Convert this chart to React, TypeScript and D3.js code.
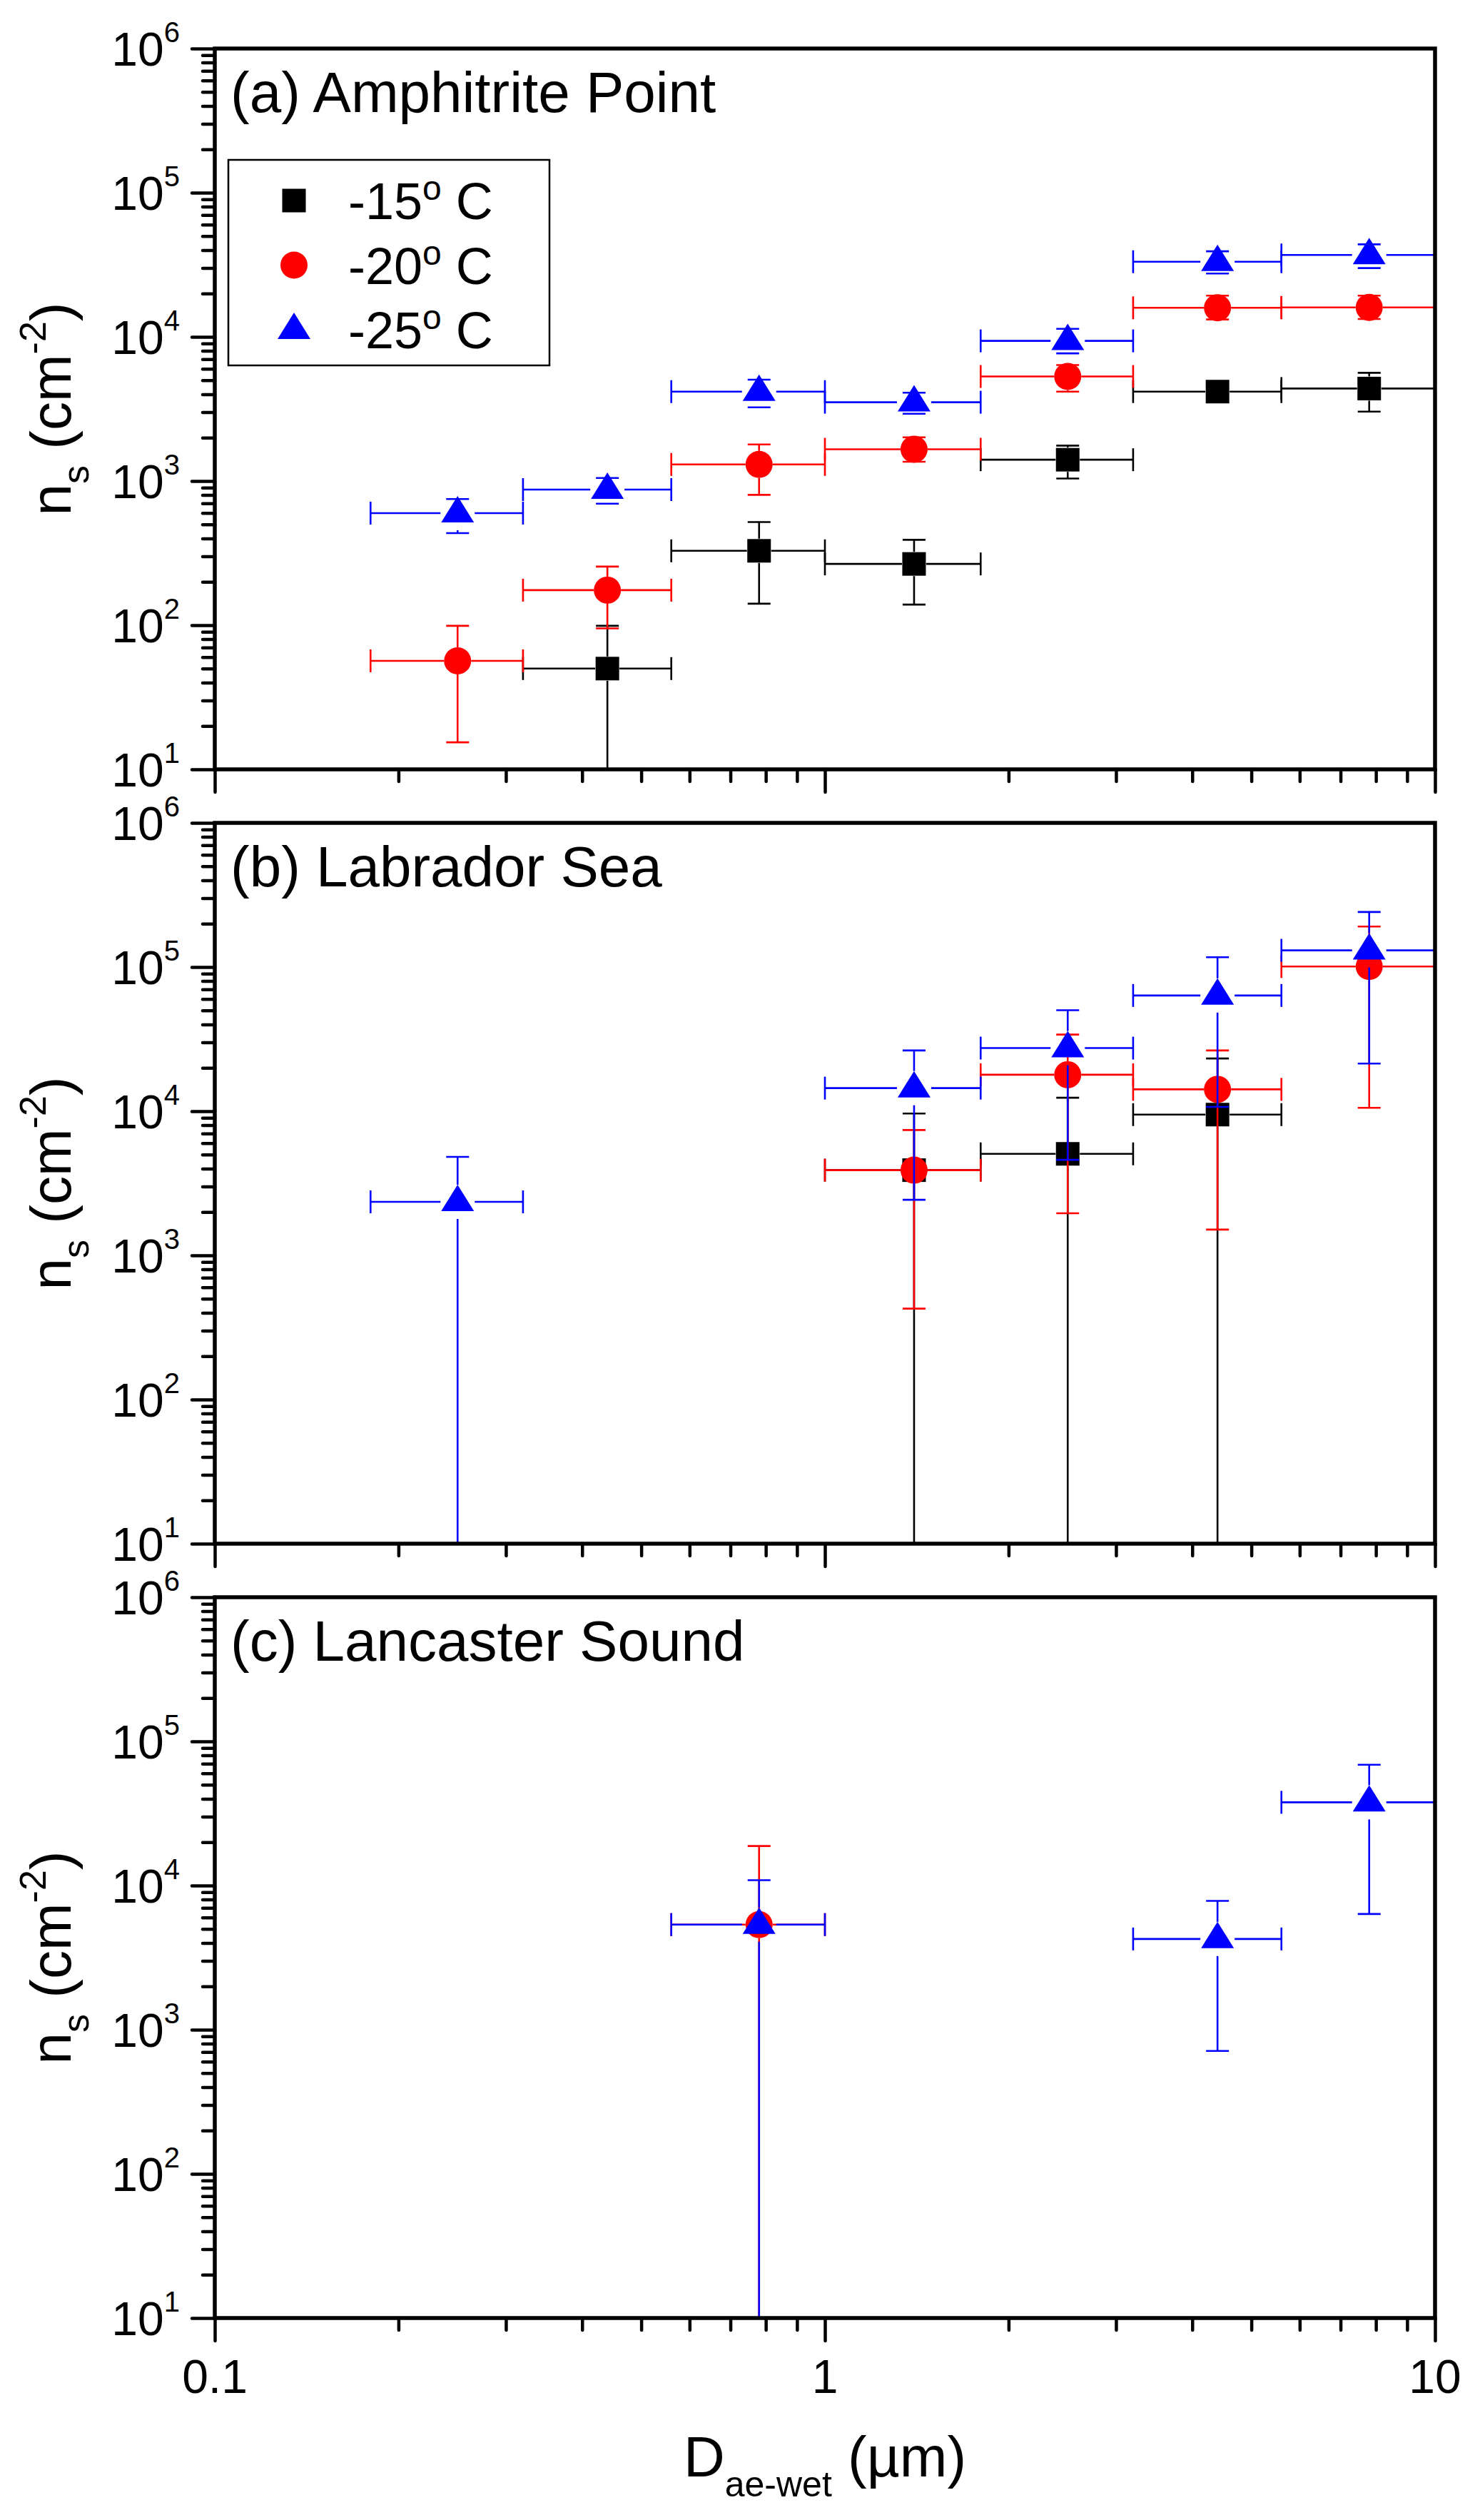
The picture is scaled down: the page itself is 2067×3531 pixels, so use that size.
import React, { useEffect, useRef } from 'react';
import * as d3 from 'd3';

// wet aerodynamic diameter bins (µm)
const binMid = [0.25, 0.44, 0.78, 1.4, 2.5, 4.4, 7.8];
const binLo = [0.18, 0.32, 0.56, 1.0, 1.8, 3.2, 5.6];
const binHi = [0.32, 0.56, 1.0, 1.8, 3.2, 5.6, 10];

// (a) Amphitrite Point, n_s (cm^-2); lower error of 0 runs off the axis
const apM15 = [null, 50, 328, 266, 1405, 4170, 4380];
const apM15Lo = [null, 0, 141, 139, 1040, 4170, 3030];
const apM15Hi = [null, 99, 519, 391, 1760, 4170, 5630];
const apM20 = [56.6, 175, 1303, 1660, 5310, 15900, 16000];
const apM20Lo = [15.4, 95, 802, 1360, 4170, 13200, 13300];
const apM20Hi = [99, 255, 1793, 2010, 6380, 19300, 19300];
const apM25 = [599, 872, 4170, 3520, 9380, 33200, 37000];
const apM25Lo = [435, 696, 3245, 2930, 7680, 27500, 30000];
const apM25Hi = [750, 1050, 5050, 4100, 11370, 39200, 43800];

// (b) Labrador Sea
const lsM15 = [null, null, null, 3900, 5060, 9470, null];
const lsM15Lo = [null, null, null, 0, 0, 0, null];
const lsM15Hi = [null, null, null, 9640, 12400, 23200, null];
const lsM20 = [null, null, null, 3900, 17900, 14170, 100800];
const lsM20Lo = [null, null, null, 427, 1960, 1510, 10550];
const lsM20Hi = [null, null, null, 7400, 34000, 26400, 191000];
const lsM25 = [2350, null, null, 14460, 27400, 63500, 130600];
const lsM25Lo = [0, null, null, 2430, 4600, 10700, 21400];
const lsM25Hi = [4820, null, null, 26400, 50200, 117000, 241000];

// (c) Lancaster Sound
const lcM15 = [null, null, null, null, null, null, null];
const lcM20 = [null, null, 5360, null, null, null, null];
const lcM20Lo = [null, null, 0, null, null, null, null];
const lcM20Hi = [null, null, 18800, null, null, null, null];
const lcM25 = [null, null, 5360, null, null, 4260, 37800];
const lcM25Lo = [null, null, 0, null, null, 713, 6350];
const lcM25Hi = [null, null, 10900, null, null, 7830, 68800];

const panelTitles = ['(a) Amphitrite Point', '(b) Labrador Sea', '(c) Lancaster Sound'];
const seriesTemps = ['-15', '-20', '-25'];
const yExponents = [1, 2, 3, 4, 5, 6];
const xMajor = [0.1, 1, 10];
const xMajorLabels = ['0.1', '1', '10'];

const W = 2067;
const H = 3531;

export default function App() {
  const svgRef = useRef<SVGSVGElement>(null);

  useEffect(() => {
    if (!svgRef.current) return;
    const svg = d3.select(svgRef.current);
    svg.selectAll('*').remove();

    const font = "'Liberation Sans', Arial, sans-serif";
    const colors = ['#000000', '#ff0000', '#0000ff'];
    const shapes = ['square', 'circle', 'triangle'];
    const gaps = [17, 19, 24];
    const left = 301, right = 2011;
    const panelTops = [68, 1153, 2238];
    const panelH = 1010;

    const panels = [
      [[apM15, apM15Lo, apM15Hi], [apM20, apM20Lo, apM20Hi], [apM25, apM25Lo, apM25Hi]],
      [[lsM15, lsM15Lo, lsM15Hi], [lsM20, lsM20Lo, lsM20Hi], [lsM25, lsM25Lo, lsM25Hi]],
      [[lcM15, lcM15, lcM15], [lcM20, lcM20Lo, lcM20Hi], [lcM25, lcM25Lo, lcM25Hi]],
    ];

    const x = d3.scaleLog().domain([0.1, 10]).range([left, right]);
    const xMinor = [0.1, 1].flatMap(d => d3.range(2, 10).map(m => m * d));
    const yMinor = [10, 100, 1000, 1e4, 1e5].flatMap(d => d3.range(2, 10).map(m => m * d));

    svg.append('rect').attr('width', W).attr('height', H).attr('fill', '#fff');

    const marker = (g: any, shape: string, cx: number, cy: number, color: string) => {
      if (shape === 'square') {
        g.append('rect').attr('x', cx - 16.5).attr('y', cy - 16.5).attr('width', 33).attr('height', 33).attr('fill', color);
      } else if (shape === 'circle') {
        g.append('circle').attr('cx', cx).attr('cy', cy).attr('r', 19).attr('fill', color);
      } else {
        g.append('path').attr('transform', `translate(${cx},${cy})`).attr('d', 'M0,-24L23,13L-23,13Z').attr('fill', color);
      }
    };

    panels.forEach((series, p) => {
      const top = panelTops[p];
      const bottom = top + panelH;
      const y = d3.scaleLog().domain([10, 1e6]).range([bottom, top]);
      const yPos = (v: number) => (v <= 10 ? bottom : y(v));
      const g = svg.append('g');

      // ticks (outward)
      const styleTicks = (s: any) => {
        s.select('.domain').remove();
        s.selectAll('line').attr('stroke', '#000').attr('stroke-width', 4.5).attr('stroke-linecap', 'round');
      };
      g.append('g').attr('transform', `translate(${left},0)`)
        .call(d3.axisLeft(y).tickValues(yMinor).tickSize(17).tickFormat(() => '')).call(styleTicks);
      g.append('g').attr('transform', `translate(${left},0)`)
        .call(d3.axisLeft(y).tickValues(yExponents.map(e => 10 ** e)).tickSize(32).tickFormat(() => '')).call(styleTicks);
      g.append('g').attr('transform', `translate(0,${bottom})`)
        .call(d3.axisBottom(x).tickValues(xMinor).tickSize(17).tickFormat(() => '')).call(styleTicks);
      g.append('g').attr('transform', `translate(0,${bottom})`)
        .call(d3.axisBottom(x).tickValues(xMajor).tickSize(32).tickFormat(() => '')).call(styleTicks);

      // y tick labels 10^n
      yExponents.forEach(e => {
        const t = g.append('text').attr('x', 252).attr('y', y(10 ** e) + 24).attr('text-anchor', 'end')
          .attr('font-family', font).attr('font-size', 66).attr('fill', '#000');
        t.append('tspan').text('10');
        t.append('tspan').attr('font-size', 40).attr('dy', -33).text(String(e));
      });

      // y title
      const yt = g.append('text').attr('transform', `translate(99,${top + panelH / 2}) rotate(-90)`)
        .attr('text-anchor', 'middle').attr('font-family', font).attr('font-size', 80).attr('fill', '#000');
      yt.append('tspan').text('n');
      yt.append('tspan').attr('font-size', 52).attr('dy', 25).text('s');
      yt.append('tspan').attr('dy', -25).text(' (cm');
      yt.append('tspan').attr('font-size', 52).attr('dy', -35).text('-2');
      yt.append('tspan').attr('dy', 35).text(')');

      // data: error bars then markers, series in order
      series.forEach(([vals, los, his], s) => {
        const color = colors[s];
        const gap = gaps[s];
        const sg = g.append('g').attr('stroke', color).attr('stroke-width', 2.6).attr('fill', 'none');
        vals.forEach((v, i) => {
          if (v == null) return;
          const cx = x(binMid[i]);
          const cy = y(v);
          const hi = his[i] as number;
          const lo = los[i] as number;
          if (hi > v) {
            const y2 = y(hi);
            if (y2 < cy - gap) sg.append('line').attr('x1', cx).attr('x2', cx).attr('y1', cy - gap).attr('y2', y2);
            sg.append('line').attr('x1', cx - 16).attr('x2', cx + 16).attr('y1', y2).attr('y2', y2);
          }
          if (lo < v) {
            const y2 = yPos(lo);
            if (y2 > cy + gap) sg.append('line').attr('x1', cx).attr('x2', cx).attr('y1', cy + gap).attr('y2', y2);
            if (lo > 10) sg.append('line').attr('x1', cx - 16).attr('x2', cx + 16).attr('y1', y2).attr('y2', y2);
          }
          const xl = x(binLo[i]);
          const xr = x(binHi[i]);
          sg.append('line').attr('x1', cx - gap).attr('x2', xl).attr('y1', cy).attr('y2', cy);
          sg.append('line').attr('x1', xl).attr('x2', xl).attr('y1', cy - 16).attr('y2', cy + 16);
          sg.append('line').attr('x1', cx + gap).attr('x2', xr).attr('y1', cy).attr('y2', cy);
          sg.append('line').attr('x1', xr).attr('x2', xr).attr('y1', cy - 16).attr('y2', cy + 16);
        });
        vals.forEach((v, i) => {
          if (v == null) return;
          marker(g, shapes[s], x(binMid[i]), y(v), color);
        });
      });

      // frame
      g.append('rect').attr('x', left).attr('y', top).attr('width', right - left).attr('height', panelH)
        .attr('fill', 'none').attr('stroke', '#000').attr('stroke-width', 5.5);

      // panel label
      g.append('text').attr('x', 323).attr('y', top + 89).attr('font-family', font).attr('font-size', 80)
        .attr('fill', '#000').text(panelTitles[p]);

      // legend
      if (p === 0) {
        const lg = g.append('g');
        lg.append('rect').attr('x', 320).attr('y', top + 156).attr('width', 450).attr('height', 288)
          .attr('fill', '#fff').attr('stroke', '#000').attr('stroke-width', 2.5);
        seriesTemps.forEach((t, s) => {
          const ry = top + 213 + s * 90.5;
          marker(lg, shapes[s], 412, ry, colors[s]);
          const tx = lg.append('text').attr('x', 488).attr('y', ry + 26).attr('font-family', font)
            .attr('font-size', 72).attr('fill', '#000');
          tx.append('tspan').text(t);
          tx.append('tspan').attr('font-size', 48).attr('dy', -27).text('o');
          tx.append('tspan').attr('dy', 27).text(' C');
        });
      }

      // x tick labels on the bottom panel only
      if (p === panels.length - 1) {
        xMajor.forEach((v, i) => {
          g.append('text').attr('x', x(v)).attr('y', bottom + 105).attr('text-anchor', 'middle')
            .attr('font-family', font).attr('font-size', 66).attr('fill', '#000').text(xMajorLabels[i]);
        });
        const xt = g.append('text').attr('x', (left + right) / 2).attr('y', bottom + 222).attr('text-anchor', 'middle')
          .attr('font-family', font).attr('font-size', 80).attr('fill', '#000');
        xt.append('tspan').text('D');
        xt.append('tspan').attr('font-size', 50).attr('dy', 28).text('ae-wet');
        xt.append('tspan').attr('dy', -28).text(' (µm)');
      }
    });
  }, []);

  return (
    <svg
      ref={svgRef}
      width={W}
      height={H}
      viewBox={`0 0 ${W} ${H}`}
      style={{ position: 'absolute', left: 0, top: 0, display: 'block' }}
    />
  );
}
